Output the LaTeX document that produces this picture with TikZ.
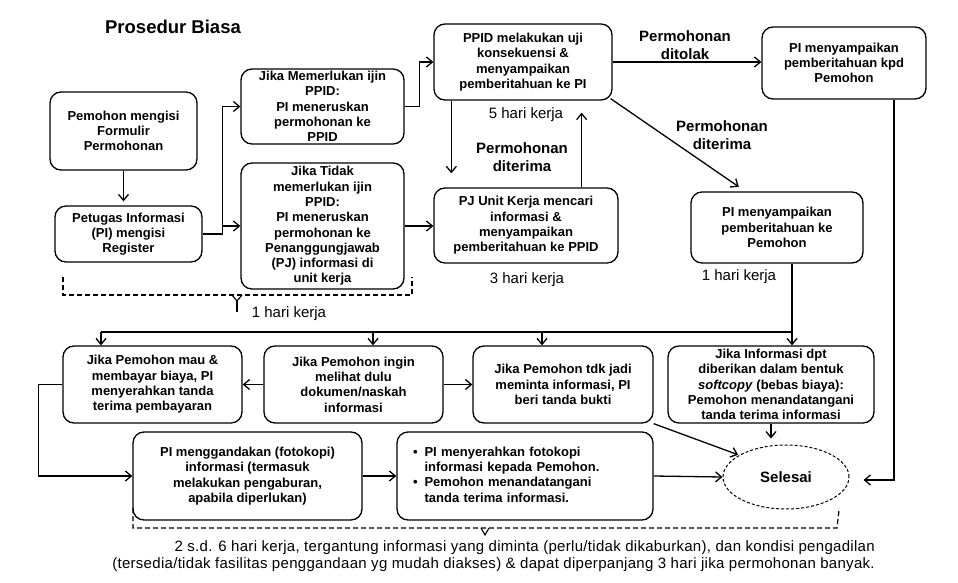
\documentclass[tikz,border=0pt]{standalone}
\usepackage{fontspec}
\setmainfont{Liberation Sans}
\usetikzlibrary{arrows.meta,shapes.geometric}
\newcommand\bxfont{\fontsize{13}{15.3}\selectfont\bfseries}
\newcommand\lblfont{\fontsize{15}{18}\selectfont\bfseries}
\newcommand\hkfont{\fontsize{15}{17}\selectfont}
\begin{document}
\begin{tikzpicture}[x=1pt,y=-1pt,
  box/.style={draw, line width=1.3pt, rounded corners=11pt, align=center, font=\bxfont, inner sep=0pt},
  arr/.style={line width=1.3pt, -{Straight Barb[length=6pt,width=10pt]}},
  ln/.style={line width=1.3pt},
  brk/.style={line width=1.2pt, dash pattern=on 5pt off 3pt}]
\useasboundingbox (0,0) rectangle (958,583);

% boxes
\node[box, minimum width=147pt, minimum height=78pt] (A) at (123.5,131) {Pemohon mengisi\\Formulir\\Permohonan};
\node[box, minimum width=147pt, minimum height=56pt] (B) at (128.5,234) {Petugas Informasi\\(PI) mengisi\\Register};
\node[box, minimum width=163pt, minimum height=75pt] (C) at (322.5,106.5) {Jika Memerlukan ijin\\PPID:\\PI meneruskan\\permohonan ke\\PPID};
\node[box, minimum width=163pt, minimum height=126pt] (D) at (322.5,226) {Jika Tidak\\memerlukan ijin\\PPID:\\PI meneruskan\\permohonan ke\\Penanggungjawab\\(PJ) informasi di\\unit kerja};
\node[box, minimum width=178pt, minimum height=76pt] (E) at (523,62) {PPID melakukan uji\\konsekuensi \&\\menyampaikan\\pemberitahuan ke PI};
\node[box, minimum width=184pt, minimum height=75pt] (F) at (526,225.5) {PJ Unit Kerja mencari\\informasi \&\\menyampaikan\\pemberitahuan ke PPID};
\node[box, minimum width=164pt, minimum height=72pt] (G) at (844,63) {PI menyampaikan\\pemberitahuan kpd\\Pemohon};
\node[box, minimum width=172pt, minimum height=71pt] (H) at (777,227.5) {PI menyampaikan\\pemberitahuan ke\\Pemohon};
\node[box, minimum width=179pt, minimum height=77pt] (I) at (152.5,384.5) {Jika Pemohon mau \&\\membayar biaya, PI\\menyerahkan tanda\\terima pembayaran};
\node[box, minimum width=179pt, minimum height=77pt] (J) at (353.5,384.5) {Jika Pemohon ingin\\melihat dulu\\dokumen/naskah\\informasi};
\node[box, minimum width=180pt, minimum height=77pt] (K) at (563,384.5) {Jika Pemohon tdk jadi\\meminta informasi, PI\\beri tanda bukti};
\node[box, minimum width=206pt, minimum height=77pt] (L) at (771,384.5) {Jika Informasi dpt\\diberikan dalam bentuk\\\textit{softcopy} (bebas biaya):\\Pemohon menandatangani\\tanda terima informasi};
\node[box, minimum width=229pt, minimum height=88pt] (M) at (247.5,476) {PI menggandakan (fotokopi)\\informasi (termasuk\\melakukan pengaburan,\\apabila diperlukan)};
\node[box, minimum height=88pt, text width=236pt, inner xsep=10pt, align=left] (N) at (525,476) {\begin{tabular}{@{\hspace*{6pt}}l@{\hspace*{7pt}}l@{}}
\textbullet & PI menyerahkan fotokopi\\ & informasi kepada Pemohon.\\
\textbullet & Pemohon menandatangani\\ & tanda terima informasi.\end{tabular}};
\node[ellipse, draw, densely dashed, line width=1pt, minimum width=126pt, minimum height=64pt, font=\fontsize{15}{18}\selectfont\bfseries] (S) at (786,477) {Selesai};

% labels
\node[font=\fontsize{18.5}{22}\selectfont\bfseries] (title) at (173,27) {Prosedur Biasa};
\node[font=\hkfont] (hk5) at (526,115) {5 hari kerja};
\node[font=\lblfont, align=center] (acc1) at (522,157) {Permohonan\\diterima};
\node[font=\hkfont] (hk3) at (527,280) {3 hari kerja};
\node[font=\lblfont, align=center] (rej) at (685,45) {Permohonan\\ditolak};
\node[font=\lblfont, align=center] (acc2) at (722,135) {Permohonan\\diterima};
\node[font=\hkfont] (hk1b) at (739,277) {1 hari kerja};
\node[font=\hkfont] (hk1a) at (289,314) {1 hari kerja};
\node[font=\fontsize{15}{17}\selectfont\addfontfeature{LetterSpace=2}, align=right, anchor=east, inner sep=0pt] (note) at (875,556.5) {2 s.d. 6 hari kerja, tergantung informasi yang diminta (perlu/tidak dikaburkan), dan kondisi pengadilan\\(tersedia/tidak fasilitas penggandaan yg mudah diakses) \& dapat diperpanjang 3 hari jika permohonan banyak.};

% connectors
\draw[arr, shorten >=4pt] (A.south) -- (A.south |- B.north);
\draw[arr] (B.east) -- ++(20,0) |- (C.west);
\draw[arr] (B.east) -- ++(20,0) |- (D.west);
\draw[arr] (C.east) -- ++(15,0) |- (E.west);
\draw[arr] (D.east) -- (F.west |- D.east);
\draw[arr, shorten >=14pt] ([xshift=18pt]E.south west) -- ([xshift=18pt]E.south west |- F.north);
\draw[arr, shorten >=12pt] ([xshift=-37pt]F.north east) -- ([xshift=-37pt]F.north east |- E.south);
\draw[arr] (E.east) -- (G.west |- E.east);
\draw[arr, shorten >=8pt] ([xshift=-2pt,yshift=2pt]E.south east) -- ([xshift=55pt]H.north west);

\coordinate (d1) at (101,332);
\coordinate (d2) at (373,332);
\coordinate (d3) at (542,332);
\coordinate (d4) at (792,332);
\draw[ln] ([xshift=15pt]H.south) -- (d4) -- (d1);
\draw[arr] (d1) -- (d1 |- I.north);
\draw[arr] (d2) -- (d2 |- J.north);
\draw[arr] (d3) -- (d3 |- K.north);
\draw[arr] (d4) -- (d4 |- L.north);
\draw[arr, shorten >=14pt] ([xshift=50pt]G.south) |- ([yshift=-3pt]S.east);

\draw[arr] (J.west) -- (I.east);
\draw[arr] (J.east) -- (K.west);
\draw[arr] (I.west) -- ++(-24,0) |- (M.west);
\draw[arr] (M.east) -- (N.west);
\draw[arr] (N.east) -- (S.west);
\draw[arr, shorten >=1pt] (K.south east) -- (S.155);
\draw[arr, shorten >=6pt] (L.south) -- (L.south |- S.north);

% brackets
\draw[brk] (63,277) -- (63,295) -- (412,295) -- (412,277);
\draw[line width=1.2pt] (232,295) -- (237,301) -- (242,295);
\draw[line width=1.2pt] (237,301) -- (237,312);
\draw[brk] (133,508) -- (133,528) -- (837,528) -- (839,510);
\draw[line width=1.1pt] (481,528) -- (485,535) -- (489,528);
\end{tikzpicture}
\end{document}
